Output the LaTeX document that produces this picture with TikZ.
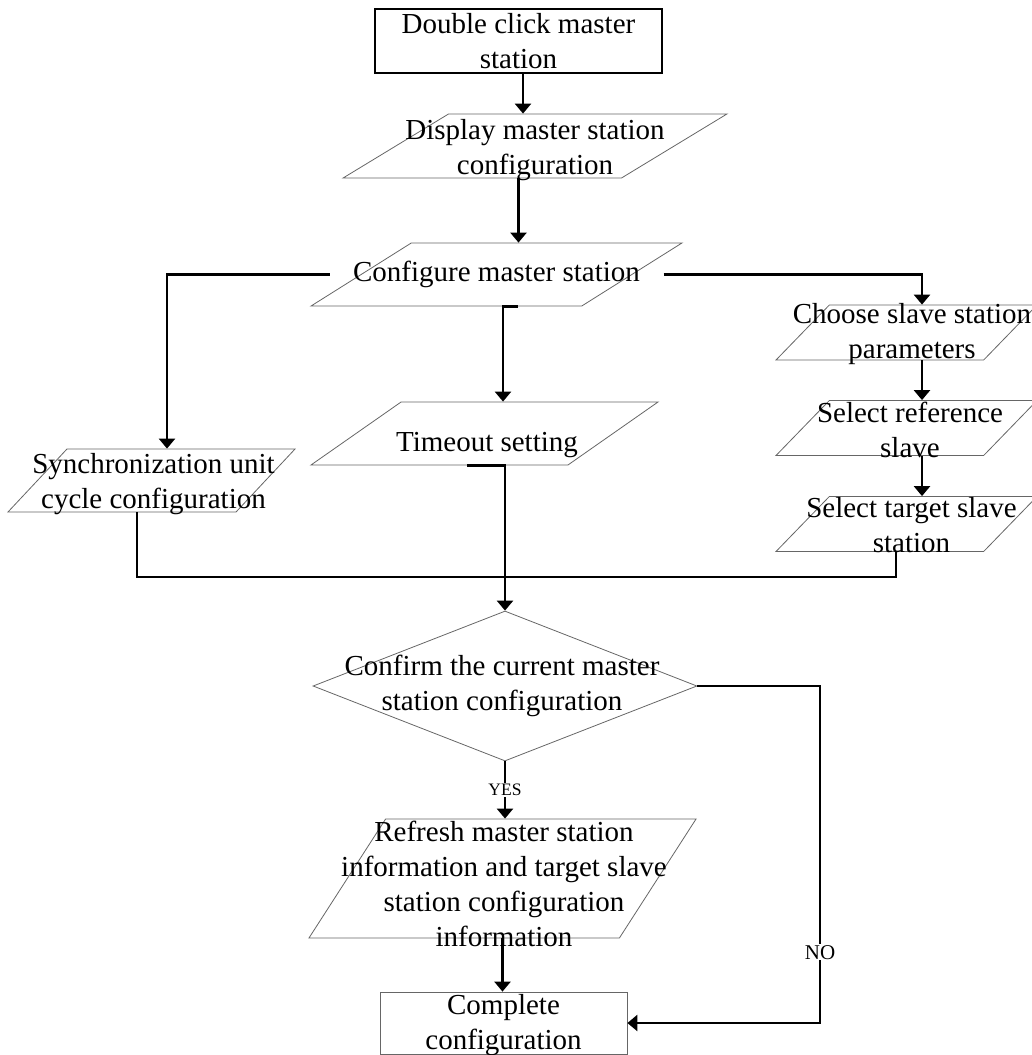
\documentclass[tikz,border=0pt]{standalone}
\usepackage{fontspec}
\setmainfont{Liberation Serif}
\usetikzlibrary{arrows.meta,shapes.geometric,calc}

\tikzset{
  flow/.style={line width=2.7pt, -{Triangle[length=10pt,width=16pt]}},
  link/.style={line width=2.7pt},
  io/.style={trapezium, trapezium stretches=true, draw=gray!80!black,
    line width=0.8pt, inner sep=2pt, trapezium left angle=#1,
    trapezium right angle={180-#1}},
  txt/.style={align=center, font=\fontsize{29}{35}\selectfont},
  tag/.style={fill=white, inner sep=1pt}
}

\begin{document}
\begin{tikzpicture}[x=1pt, y=-1pt]
  \useasboundingbox (0,0) rectangle (1031,1055);

  % Start
  \node[draw, line width=1.6pt, minimum width=287, minimum height=64,
        inner sep=0pt, txt] (start) at (518.5,41)
    {Double click master\\station};

  % Master station
  \node[io=58.64, minimum width=384, minimum height=64,
        label={[txt, yshift=-4]center:{Display master station\\configuration}}]
    (disp) at (535,146) {};
  \node[io=59.57, minimum width=371, minimum height=63,
        label={[txt]center:{Configure master station}}]
    (conf) at (496.5,274.5) {};

  % Three branches
  \node[io=70.75, minimum width=287, minimum height=63,
        label={[txt, xshift=2, yshift=-3.5]center:{Synchronization unit\\cycle configuration}}]
    (sync) at (151.5,480.5) {};
  \node[io=61.64, minimum width=347, minimum height=63,
        label={[txt, xshift=2.5, yshift=-12]center:{Timeout setting}}]
    (tout) at (484.5,433.5) {};
  \node[io=70.94, minimum width=261, minimum height=55,
        label={[txt, xshift=5.5, yshift=-1.5]center:{Choose slave station\\parameters}}]
    (choose) at (906.5,332.5) {};
  \node[io=70.94, minimum width=261, minimum height=55,
        label={[txt, xshift=3.5, yshift=-2]center:{Select reference\\slave}}]
    (ref) at (906.5,428) {};
  \node[io=70.94, minimum width=261, minimum height=55,
        label={[txt, xshift=5, yshift=-1]center:{Select target slave\\station}}]
    (tgt) at (906.5,524) {};

  % Decision
  \node[diamond, draw=gray!80!black, line width=0.8pt, inner sep=2pt,
        minimum width=384, minimum height=150,
        label={[txt, xshift=-3]center:{Confirm the current master\\station configuration}}]
    (dec) at (505,686) {};
  \node[io=71.85, minimum width=387, minimum height=119,
        label={[txt, xshift=1.5, yshift=-5]center:{Refresh master station\\information and target slave\\station configuration\\information}}]
    (refr) at (502.5,878.5) {};
  \node[draw=gray!80!black, line width=0.8pt, minimum width=247,
        minimum height=62, inner sep=0pt,
        label={[txt, yshift=-2]center:{Complete\\configuration}}]
    (done) at (503.5,1023) {};

  % Arrows
  \draw[flow] ([xshift=4.5]start.south) -- ([xshift=4.5]start.south |- disp.north);
  \draw[flow] (disp.south -| start.south) -- (conf.north -| start.south);
  \draw[flow] ([xshift=-167]conf.center) -| ([xshift=15.5]sync.north);
  \draw[flow] ([xshift=167]conf.center) -| ([xshift=15.5]choose.north);
  \draw[flow] ([xshift=21.5]conf.south) -- ([xshift=6.5]conf.south)
    -- ([xshift=6.5]conf.south |- tout.north);
  \draw[flow] ([xshift=15.5]choose.south) -- ([xshift=15.5]ref.north);
  \draw[flow] ([xshift=15.5]ref.south) -- ([xshift=15.5]tgt.north);

  % Merge
  \coordinate (join) at (505,577);
  \draw[link] ([xshift=-14.5]sync.south) |- (join);
  \draw[link] ([xshift=-10.5]tgt.south) |- (join);
  \draw[flow] ([xshift=-17.5]tout.south) -- (tout.south -| dec.north) -- (dec.north);

  % Yes / no
  \draw[flow] (dec.south) -- node[tag, font=\fontsize{17.5}{20}\selectfont] {YES}
    (dec.south |- refr.north);
  \draw[flow] (refr.south) -- (refr.south |- done.north);
  \coordinate (noturn) at (820,686);
  \draw[flow] (dec.east) -- (noturn)
    -- node[tag, pos=0.79, font=\fontsize{21}{24}\selectfont] {NO}
    (noturn |- done.east) -- (done.east);
\end{tikzpicture}
\end{document}
